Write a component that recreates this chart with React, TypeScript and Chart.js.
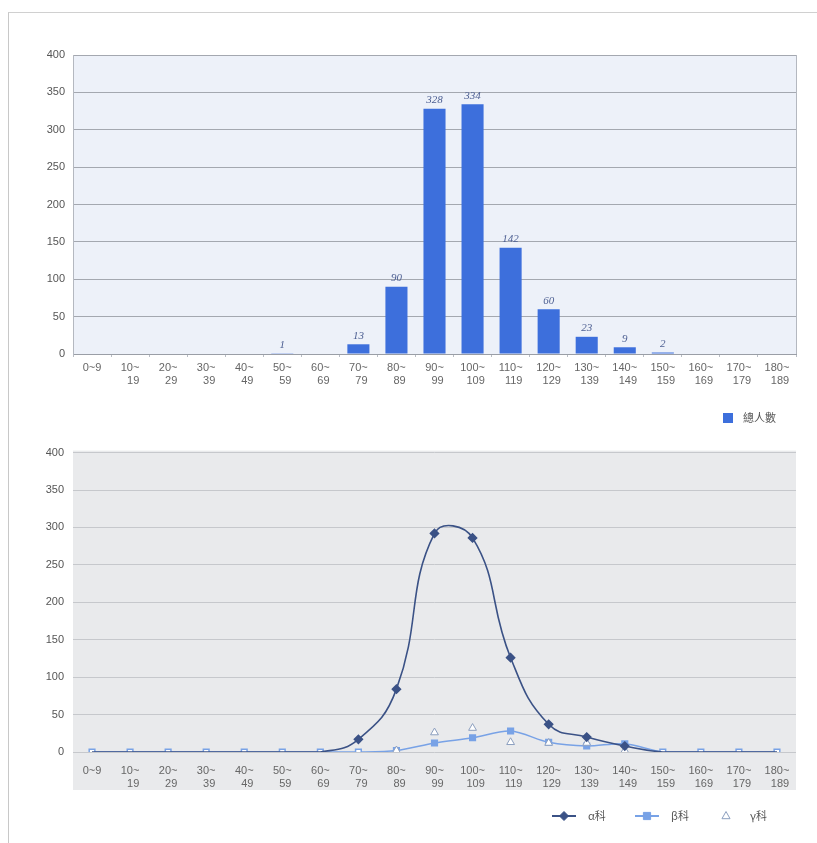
import React, { useEffect, useRef } from "react";
import { Chart, registerables } from "chart.js";

Chart.register(...registerables);

const categories = [
  "0~9", "10~19", "20~29", "30~39", "40~49", "50~59", "60~69", "70~79", "80~89",
  "90~99", "100~109", "110~119", "120~129", "130~139", "140~149", "150~159",
  "160~169", "170~179", "180~189",
];
const totalLabel = "總人數";
const totalCounts = [0, 0, 0, 0, 0, 1, 0, 13, 90, 328, 334, 142, 60, 23, 9, 2, 0, 0, 0];

const alphaLabel = "α科";
const betaLabel = "β科";
const gammaLabel = "γ科";
const alphaCounts = [0, 0, 0, 0, 0, 0, 0, 17, 84, 292, 286, 126, 37, 20, 8, 0, 0, 0, 0];
const betaCounts = [0, 0, 0, 0, 0, 0, 0, 0, 2, 12, 19, 28, 13, 8, 11, 0, 0, 0, 0];
const gammaCounts = [0, 0, 0, 0, 0, 0, 0, 0, 2, 26, 32, 13, 12, 12, 2, 0, 0, 0, 0];

const yTicks = [0, 50, 100, 150, 200, 250, 300, 350, 400];

const FONT = "'Liberation Sans', Arial, sans-serif";
const BAR_BLUE = "#3d6fdc";
const ALPHA_C = "#3b5286";
const BETA_C = "#78a2e6";
const GAMMA_C = "#8c9fbf";

function splitLabel(s: string): string | string[] {
  const i = s.indexOf("~");
  const a = s.slice(0, i);
  const b = s.slice(i + 1);
  if (a.length + b.length <= 2) return s;
  return [a + "~", "  " + b];
}

const xTickFont = { family: FONT, size: 11 };

function TopChart() {
  const ref = useRef<HTMLCanvasElement>(null);
  useEffect(() => {
    const bg = {
      id: "bgTop",
      beforeDraw(chart: any) {
        const { ctx, chartArea: a } = chart;
        ctx.save();
        ctx.fillStyle = "#edf1f9";
        ctx.fillRect(a.left, a.top, a.right - a.left, a.bottom - a.top);
        ctx.restore();
      },
      afterDraw(chart: any) {
        const { ctx, chartArea: a } = chart;
        ctx.save();
        ctx.strokeStyle = "#b4b8c0";
        ctx.lineWidth = 1;
        ctx.beginPath();
        ctx.moveTo(a.right + 0.5, a.top);
        ctx.lineTo(a.right + 0.5, a.bottom);
        ctx.stroke();
        // legend
        const y = chart.scales.x.bottom + 20;
        const x = a.right - 73;
        ctx.fillStyle = BAR_BLUE;
        ctx.fillRect(x, y - 5, 10, 10);
        ctx.fillStyle = "#555";
        ctx.font = `11px 'Noto Sans CJK TC', ${FONT}`;
        ctx.textBaseline = "middle";
        ctx.textAlign = "left";
        ctx.fillText(totalLabel, x + 20, y);
        ctx.restore();
      },
    };
    const valueLabels = {
      id: "valueLabels",
      afterDatasetsDraw(chart: any) {
        const { ctx } = chart;
        const meta = chart.getDatasetMeta(0);
        ctx.save();
        ctx.font = "italic 11px 'Liberation Serif', 'DejaVu Serif', serif";
        ctx.fillStyle = "#4d5f92";
        ctx.textAlign = "center";
        ctx.textBaseline = "bottom";
        meta.data.forEach((el: any, i: number) => {
          const v = totalCounts[i];
          if (!v) return;
          ctx.fillText(String(v), el.x, el.y - 3);
        });
        ctx.restore();
      },
    };
    const chart = new Chart(ref.current!, {
      type: "bar",
      data: {
        labels: categories,
        datasets: [
          {
            label: totalLabel,
            data: totalCounts,
            backgroundColor: BAR_BLUE,
            barPercentage: 0.58,
            categoryPercentage: 1,
          },
        ],
      },
      options: {
        responsive: false,
        animation: false,
        layout: { padding: { top: 15, right: 21, left: 0, bottom: 42 } },
        plugins: { legend: { display: false }, tooltip: { enabled: false } },
        scales: {
          x: {
            grid: {
              display: true,
              drawOnChartArea: false,
              drawTicks: true,
              tickLength: 3,
              color: "#b8bcc4",
              offset: true,
            },
            border: { display: true, color: "#9a9ea6" },
            ticks: {
              autoSkip: false,
              maxRotation: 0,
              padding: 4,
              color: "#666",
              font: xTickFont,
              callback: (_v: any, i: number) => splitLabel(categories[i]),
            },
            afterFit: (s: any) => {
              s.height = 44;
            },
          },
          y: {
            min: 0,
            max: 400,
            afterBuildTicks: (s: any) => {
              s.ticks = yTicks.map((v) => ({ value: v }));
            },
            grid: { color: "#a4a8b0", drawTicks: false },
            border: { display: true, color: "#b4b8c0" },
            ticks: { padding: 8, color: "#555", font: { family: FONT, size: 11 } },
            afterFit: (s: any) => {
              s.width = 73;
            },
          },
        },
      },
      plugins: [bg, valueLabels],
    });
    return () => chart.destroy();
  }, []);
  return (
    <canvas
      ref={ref}
      width={817}
      height={400}
      style={{ position: "absolute", left: 0, top: 40, display: "block" }}
    />
  );
}

function drawMarker(ctx: CanvasRenderingContext2D, style: string, x: number, y: number, r: number, fill: string, stroke: string) {
  ctx.save();
  ctx.fillStyle = fill;
  ctx.strokeStyle = stroke;
  ctx.lineWidth = 1;
  ctx.beginPath();
  if (style === "rectRot") {
    ctx.moveTo(x, y - r);
    ctx.lineTo(x + r, y);
    ctx.lineTo(x, y + r);
    ctx.lineTo(x - r, y);
    ctx.closePath();
  } else if (style === "rect") {
    ctx.rect(x - r * 0.8, y - r * 0.8, r * 1.6, r * 1.6);
  } else {
    ctx.moveTo(x, y - r);
    ctx.lineTo(x + r * 0.9, y + r * 0.6);
    ctx.lineTo(x - r * 0.9, y + r * 0.6);
    ctx.closePath();
  }
  ctx.fill();
  ctx.stroke();
  ctx.restore();
}

function BottomChart() {
  const ref = useRef<HTMLCanvasElement>(null);
  useEffect(() => {
    const bg = {
      id: "bgBottom",
      beforeDraw(chart: any) {
        const { ctx, chartArea: a } = chart;
        const xb = chart.scales.x.bottom;
        ctx.save();
        ctx.fillStyle = "#e9eaec";
        ctx.fillRect(a.left, a.top - 2, a.right - a.left, xb - a.top + 2);
        ctx.restore();
      },
      afterDraw(chart: any) {
        const { ctx, chartArea: a } = chart;
        const y = chart.scales.x.bottom + 26;
        ctx.save();
        ctx.font = `11px 'Noto Sans CJK TC', ${FONT}`;
        ctx.textBaseline = "middle";
        ctx.textAlign = "left";
        const items = [
          { x: a.right - 244, label: alphaLabel, line: ALPHA_C, style: "rectRot", fill: ALPHA_C, stroke: ALPHA_C },
          { x: a.right - 161, label: betaLabel, line: BETA_C, style: "rect", fill: BETA_C, stroke: BETA_C },
          { x: a.right - 82, label: gammaLabel, line: null, style: "triangle", fill: "#ffffff", stroke: GAMMA_C },
        ];
        items.forEach((it) => {
          if (it.line) {
            ctx.strokeStyle = it.line;
            ctx.lineWidth = 2;
            ctx.beginPath();
            ctx.moveTo(it.x, y);
            ctx.lineTo(it.x + 24, y);
            ctx.stroke();
          }
          drawMarker(ctx, it.style, it.x + 12, y, 4.5, it.fill, it.stroke);
          ctx.fillStyle = "#555";
          ctx.fillText(it.label, it.x + 36, y);
        });
        ctx.restore();
      },
    };
    const chart = new Chart(ref.current!, {
      type: "line",
      data: {
        labels: categories,
        datasets: [
          {
            label: betaLabel,
            data: betaCounts,
            borderColor: BETA_C,
            backgroundColor: BETA_C,
            borderWidth: 1.5,
            pointStyle: "rect",
            pointRadius: 4,
            pointBorderColor: BETA_C,
            pointBackgroundColor: (c: any) => (betaCounts[c.dataIndex] ? BETA_C : "#ffffff"),
            pointBorderWidth: 1.5,
            tension: 0.3,
            order: 2,
          },
          {
            label: gammaLabel,
            data: gammaCounts,
            showLine: false,
            pointStyle: "triangle",
            pointRadius: (c: any) => (gammaCounts[c.dataIndex] ? 4.5 : 0),
            pointBorderColor: GAMMA_C,
            pointBackgroundColor: "#ffffff",
            pointBorderWidth: 1,
            order: 1,
          },
          {
            label: alphaLabel,
            data: alphaCounts,
            borderColor: ALPHA_C,
            backgroundColor: ALPHA_C,
            borderWidth: 1.6,
            pointStyle: "rectRot",
            pointRadius: (c: any) => (alphaCounts[c.dataIndex] ? 4 : 0),
            pointBorderColor: ALPHA_C,
            pointBackgroundColor: ALPHA_C,
            tension: 0.45,
            order: 0,
          },
        ],
      },
      options: {
        responsive: false,
        animation: false,
        layout: { padding: { top: 9, right: 21, left: 0, bottom: 50 } },
        plugins: { legend: { display: false }, tooltip: { enabled: false } },
        scales: {
          x: {
            offset: true,
            grid: { display: false },
            border: { display: false },
            ticks: {
              autoSkip: false,
              maxRotation: 0,
              padding: 4,
              color: "#666",
              font: xTickFont,
              callback: (_v: any, i: number) => splitLabel(categories[i]),
            },
            afterFit: (s: any) => {
              s.height = 38;
            },
          },
          y: {
            min: 0,
            max: 400,
            afterBuildTicks: (s: any) => {
              s.ticks = yTicks.map((v) => ({ value: v }));
            },
            grid: { color: "#c6c8cc", drawTicks: false },
            border: { display: false },
            ticks: { padding: 9, color: "#555", font: { family: FONT, size: 11 } },
            afterFit: (s: any) => {
              s.width = 73;
            },
          },
        },
      },
      plugins: [bg],
    });
    return () => chart.destroy();
  }, []);
  return (
    <canvas
      ref={ref}
      width={817}
      height={403}
      style={{ position: "absolute", left: 0, top: 437, display: "block" }}
    />
  );
}

export default function App() {
  return (
    <div
      style={{
        position: "absolute",
        left: 0,
        top: 0,
        width: 817,
        height: 843,
        background: "#ffffff",
        overflow: "hidden",
      }}
    >
      <div
        style={{
          position: "absolute",
          left: 8,
          top: 12,
          width: 830,
          height: 860,
          borderLeft: "1px solid #c8c8c8",
          borderTop: "1px solid #d0d0d0",
        }}
      />
      <TopChart />
      <BottomChart />
    </div>
  );
}
